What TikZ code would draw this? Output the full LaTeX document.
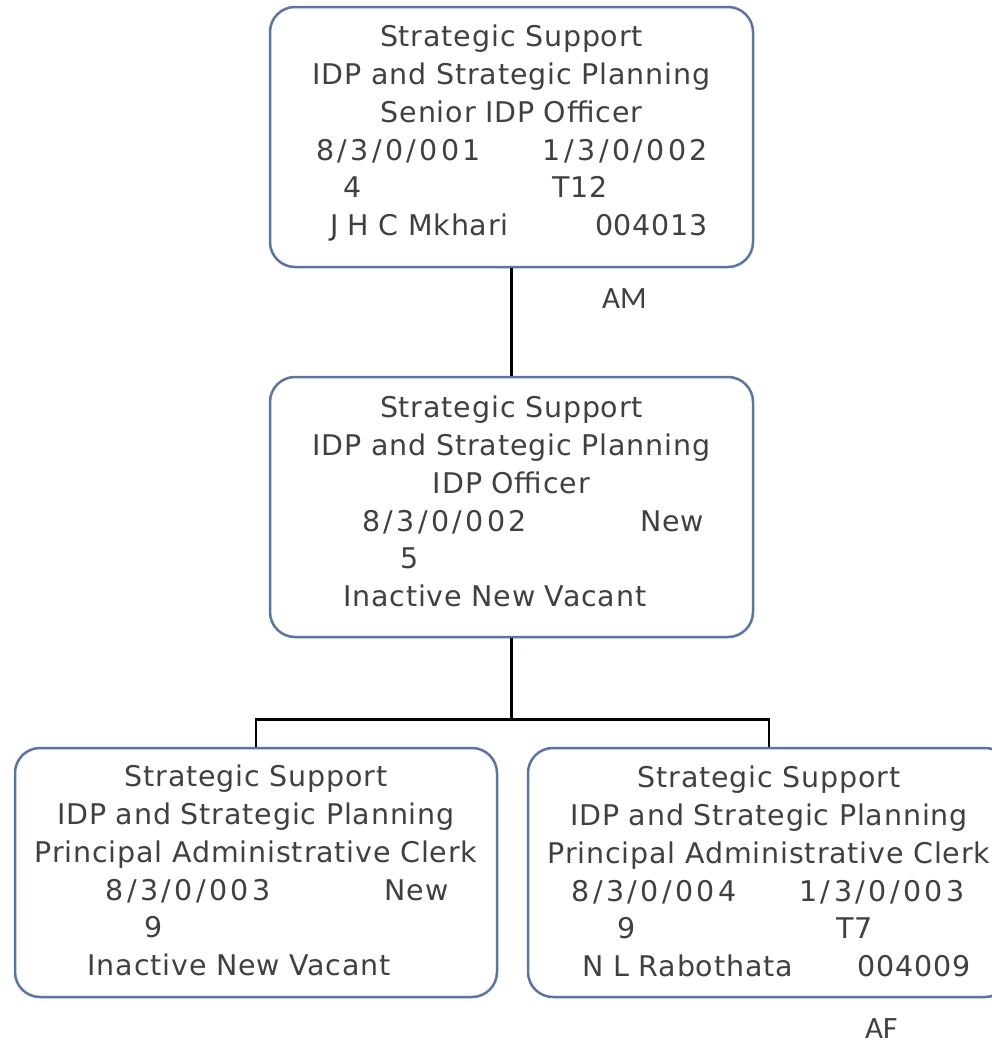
\documentclass[tikz,border=0pt]{standalone}
\usepackage{fontspec}
\setmainfont{DejaVu Sans}[LetterSpace=3]
\newfontfamily\codefont{DejaVu Sans}[LetterSpace=12]
\newfontfamily\tagfont{Carlito}
\usetikzlibrary{calc}
\definecolor{cardline}{RGB}{91,117,160}
\definecolor{cardink}{RGB}{64,64,64}
\newlength{\cardw}\setlength{\cardw}{483pt}
\newcommand{\duo}[4]{\makebox[\cardw][l]{\rlap{\hspace*{#1pt}#2}\hspace*{#3pt}#4}}
\newcommand{\code}[1]{{\codefont #1}}

\begin{document}
\begin{tikzpicture}[x=1pt,y=-1pt,
    card/.style={draw=cardline,line width=2.5pt,rounded corners=25pt,minimum width=483pt,minimum height=260pt,inner sep=0pt},
    cardtext/.style={text width=\cardw,align=center,inner sep=0pt,text=cardink,font=\fontsize{28.5}{37.8}\selectfont,anchor=base},
    tag/.style={text=cardink,font=\tagfont\fontsize{31}{31}\selectfont,anchor=base west,inner sep=0pt},
    link/.style={line width=2.5pt}]
    \useasboundingbox (0,0) rectangle (992,1044);

    \node[card] (senior) at (511.5,137) {};
    \node[card] (officer) at (511.5,507) {};
    \node[card,minimum width=482pt,minimum height=249pt] (clerkA) at (256,872.5) {};
    \node[card,minimum width=482pt,minimum height=249pt] (clerkB) at (769,872.5) {};

    \node[cardtext] (seniortxt) at ([yshift=-41pt]senior.north) {Strategic Support\\IDP and Strategic Planning\\Senior IDP Officer\\\duo{46}{\code{8/3/0/001}}{273}{\code{1/3/0/002}}\\\duo{73}{4}{282}{T12}\\\duo{60}{J H C Mkhari}{325}{004013}};
    \node[cardtext] (officertxt) at ([yshift=-42pt]officer.north) {Strategic Support\\IDP and Strategic Planning\\IDP Officer\\\duo{92}{\code{8/3/0/002}}{370}{New}\\\duo{130}{5}{0}{}\\\duo{73}{Inactive New Vacant}{0}{}};
    \node[cardtext] (clerkAtxt) at ([yshift=-40pt]clerkA.north) {Strategic Support\\IDP and Strategic Planning\\Principal Administrative Clerk\\\duo{91}{\code{8/3/0/003}}{370}{New}\\\duo{130}{9}{0}{}\\\duo{73}{Inactive New Vacant}{0}{}};
    \node[cardtext] (clerkBtxt) at ([yshift=-41pt]clerkB.north) {Strategic Support\\IDP and Strategic Planning\\Principal Administrative Clerk\\\duo{44}{\code{8/3/0/004}}{272}{\code{1/3/0/003}}\\\duo{90}{9}{309}{T7}\\\duo{55}{N L Rabothata}{330}{004009}};

    \draw[link] (senior.south) -- (officer.north);
    \draw[link] (officer.south) -- ++(0,81) coordinate (bus) -| (clerkA.north);
    \draw[link] (bus) -| (clerkB.north);

    \node[tag] (am) at (602,308) {AM};
    \node[tag] (af) at (865,1038) {AF};
\end{tikzpicture}
\end{document}
